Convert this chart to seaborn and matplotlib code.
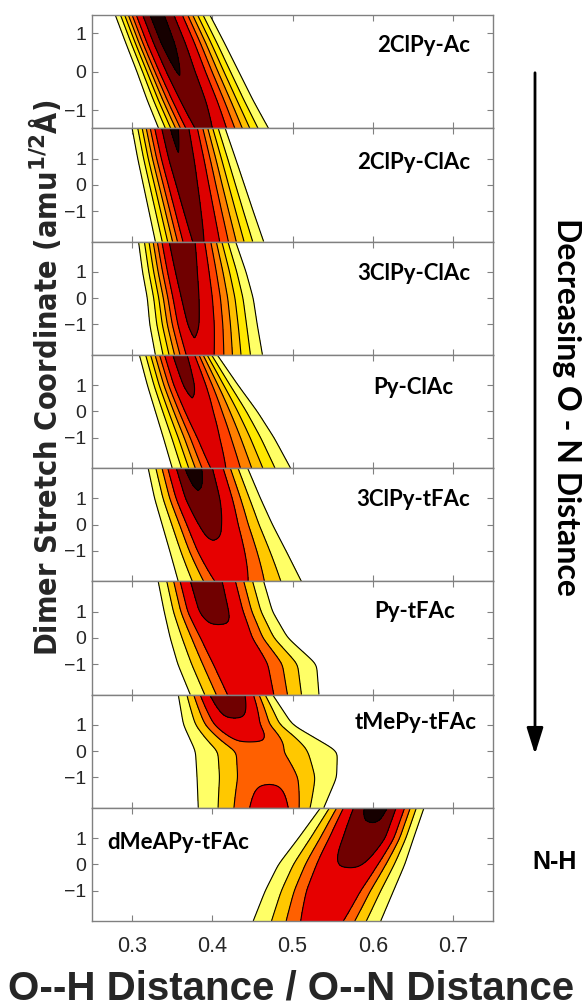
import numpy as np
import matplotlib
matplotlib.use("Agg")
import matplotlib.pyplot as plt
import seaborn as sns
from matplotlib import font_manager as fm
from matplotlib.patches import FancyArrowPatch

# ---------------- data ----------------
PANEL_NAMES = ["2ClPy-Ac", "2ClPy-ClAc", "3ClPy-ClAc", "Py-ClAc",
               "3ClPy-tFAc", "Py-tFAc", "tMePy-tFAc", "dMeAPy-tFAc"]
Y_LIMIT = [1.47, 2.15, 2.15, 2.15, 2.15, 2.15, 2.15, 2.15]
KNOT_Y = [[-1.47, -0.75, 0, 0.75, 1.47],
          [-2.15, -1, 0, 1, 2.15], [-2.15, -1, 0, 1, 2.15],
          [-2.15, -1, 0, 1, 2.15], [-2.15, -1, 0, 1, 2.15],
          [-2.15, -1, 0, 1, 2.15], [-2.15, -1, 0, 1, 2.15],
          [-2.15, -1, 0, 1, 2.15]]
# ridge (maximum) position of the distribution at each knot
RIDGE_X = [[0.387, 0.373, 0.357, 0.343, 0.330],
           [0.381, 0.373, 0.366, 0.359, 0.352],
           [0.381, 0.375, 0.370, 0.365, 0.360],
           [0.405, 0.392, 0.380, 0.370, 0.360],
           [0.420, 0.405, 0.395, 0.385, 0.375],
           [0.445, 0.430, 0.415, 0.400, 0.390],
           [0.475, 0.470, 0.455, 0.430, 0.420],
           [0.540, 0.555, 0.575, 0.595, 0.605]]
# outermost contour, left and right edge
EDGE_LEFT = [[0.333, 0.319, 0.306, 0.292, 0.279],
             [0.329, 0.321, 0.314, 0.307, 0.300],
             [0.329, 0.322, 0.319, 0.313, 0.308],
             [0.350, 0.339, 0.329, 0.319, 0.309],
             [0.3575, 0.347, 0.3375, 0.328, 0.320],
             [0.3725, 0.357, 0.3475, 0.340, 0.3325],
             [0.3825, 0.381, 0.379, 0.364, 0.3575],
             [0.451, 0.466, 0.4825, 0.5075, 0.535]]
EDGE_RIGHT = [[0.470, 0.451, 0.433, 0.415, 0.397],
              [0.464, 0.451, 0.440, 0.429, 0.416],
              [0.4625, 0.456, 0.451, 0.442, 0.429],
              [0.4975, 0.477, 0.456, 0.432, 0.406],
              [0.511, 0.492, 0.475, 0.460, 0.444],
              [0.533, 0.530, 0.494, 0.475, 0.464],
              [0.539, 0.555, 0.556, 0.500, 0.475],
              [0.610, 0.626, 0.640, 0.651, 0.664]]
# relative peak probability along the ridge
PEAK = [[0.82, 0.89, 0.94, 0.99, 1.00],
        [0.80, 0.84, 0.88, 0.93, 0.97],
        [0.72, 0.80, 0.84, 0.88, 0.94],
        [0.62, 0.66, 0.72, 0.80, 0.84],
        [0.60, 0.72, 0.80, 0.91, 0.96],
        [0.62, 0.65, 0.70, 0.80, 0.82],
        [0.60, 0.51, 0.44, 0.70, 0.93],
        [0.60, 0.68, 0.76, 0.89, 0.95]]
# width of the flat top of each distribution (fraction of the half width)
PLATEAU = [0.10, 0.08, 0.08, 0.10, 0.18, 0.25, 0.22, 0.25]
SCHEME = ["A", "A", "A", "A", "B", "B", "B", "B"]
X_TICKS = [0.3, 0.4, 0.5, 0.6, 0.7]
Y_TICKS = [-1, 0, 1]

# ---------------- style ----------------
LEVELS = {"A": [0.02, 0.16, 0.27, 0.37, 0.47, 0.58, 0.75, 0.92, 1.2],
          "B": [0.02, 0.22, 0.38, 0.53, 0.75, 0.92, 1.2]}
COLORS = {"A": ["#FFFF66", "#FFE800", "#FFC000", "#FF8000", "#FF4000",
                "#DD0000", "#700000", "#160000"],
          "B": ["#FFFF66", "#FFC800", "#FF6000", "#E60000", "#700000", "#160000"]}
LABEL_POS = [(0.943, 0.73, "right"), (0.943, 0.70, "right"), (0.943, 0.72, "right"),
             (0.900, 0.71, "right"), (0.943, 0.72, "right"), (0.905, 0.73, "right"),
             (0.960, 0.75, "right"), (0.037, 0.69, "left")]

sns.set_theme(style="ticks")
plt.rcParams["font.family"] = ["Liberation Sans", "DejaVu Sans"]
fonts = fm.fontManager.ttflist
names = {f.name for f in fonts}
CAL = "Lato" if "Lato" in names else "Liberation Sans"
if "Liberation Sans Narrow" in names:
    YL_FONT = dict(family=["Liberation Sans Narrow", "DejaVu Sans"], fontsize=25)
elif any(f.name == "DejaVu Sans" and "ondensed" in str(f.stretch) for f in fonts) or \
        any("Condensed" in f.fname for f in fonts if f.name == "DejaVu Sans"):
    YL_FONT = dict(family=["DejaVu Sans"], fontstretch="condensed", fontsize=22)
else:
    YL_FONT = dict(family=["Liberation Sans", "DejaVu Sans"], fontsize=23)

W, H = 582, 1005
fig = plt.figure(figsize=(W / 100, H / 100), dpi=100)
gs = fig.add_gridspec(8, 1, left=92 / W, right=493 / W, top=1 - 15 / H,
                      bottom=1 - 921 / H, hspace=0)

xg = np.linspace(0.25, 0.75, 700)
KS = 14.0


def smooth_curve(yg, ky, vals):
    v = np.interp(yg, ky, vals)
    n = 30
    k = np.exp(-0.5 * (np.arange(-n, n + 1) / 10.0) ** 2)
    k /= k.sum()
    vp = np.pad(v, n, mode="reflect", reflect_type="odd")
    return np.convolve(vp, k, mode="valid")


for i in range(8):
    ax = fig.add_subplot(gs[i])
    yl = Y_LIMIT[i]
    yg = np.linspace(-yl, yl, 320)
    c = smooth_curve(yg, KNOT_Y[i], RIDGE_X[i])[:, None]
    lft = smooth_curve(yg, KNOT_Y[i], EDGE_LEFT[i])[:, None]
    rgt = smooth_curve(yg, KNOT_Y[i], EDGE_RIGHT[i])[:, None]
    amp = smooth_curve(yg, KNOT_Y[i], PEAK[i])[:, None]
    lv = LEVELS[SCHEME[i]]
    r0 = PLATEAU[i]
    d = xg[None, :] - c
    dist = np.where(d < 0, c - lft, rgt - c)
    w = dist / (1 - (1 - r0) * lv[0] / amp)
    s = (1 - np.abs(d) / w) / (1 - r0)
    g = -np.logaddexp(-KS * s, -KS * 1.0) / KS
    f = amp * np.clip(g, 0, None)
    ax.contourf(xg, yg, f, levels=lv, colors=COLORS[SCHEME[i]])
    ax.contour(xg, yg, f, levels=lv[:-1], colors="black", linewidths=0.8)
    ax.set_xlim(0.25, 0.75)
    ax.set_ylim(-yl, yl)
    ax.set_xticks(X_TICKS)
    ax.set_yticks(Y_TICKS)
    ax.tick_params(direction="in", length=4, width=0.8, top=True, right=True,
                   color="#808080", labelsize=14, labelcolor="#262626", pad=4)
    if i < 7:
        ax.tick_params(labelbottom=False)
    else:
        ax.tick_params(axis="x", pad=11)
        ax.set_xticklabels([f"{t:.1f}" for t in X_TICKS], fontsize=15.5)
    for sp in ax.spines.values():
        sp.set_color("#808080")
        sp.set_linewidth(1.0)
    lx, ly, ha = LABEL_POS[i]
    ax.text(lx, ly, PANEL_NAMES[i], transform=ax.transAxes, ha=ha, va="center",
            fontsize=16, fontweight="bold", family=[CAL, "DejaVu Sans"], color="black")

fig.text(291 / W, 1 - 988 / H, "O--H Distance / O--N Distance", ha="center", va="center",
         fontsize=29, fontweight="bold", color="#262626")
fig.text(45 / W, 1 - 378 / H, r"Dimer Stretch Coordinate (amu$^{\mathbf{1/2}}$Å)",
         rotation=90, ha="center", va="center", fontweight="bold",
         color="#262626", **YL_FONT)
fig.text(566 / W, 1 - 407 / H, "Decreasing O - N Distance", rotation=-90,
         ha="center", va="center", fontsize=23, fontweight="bold",
         family=[CAL, "DejaVu Sans"], color="black")
fig.text(555 / W, 1 - 862 / H, "N-H", ha="center", va="center", fontsize=18,
         fontweight="bold", color="black")
arr = FancyArrowPatch((535 / W, 1 - 70 / H), (535 / W, 1 - 757 / H),
                      transform=fig.transFigure,
                      arrowstyle="-|>,head_length=1.6,head_width=0.5",
                      mutation_scale=10, lw=2, color="black")
fig.add_artist(arr)

fig.savefig("out.png", dpi=100)
